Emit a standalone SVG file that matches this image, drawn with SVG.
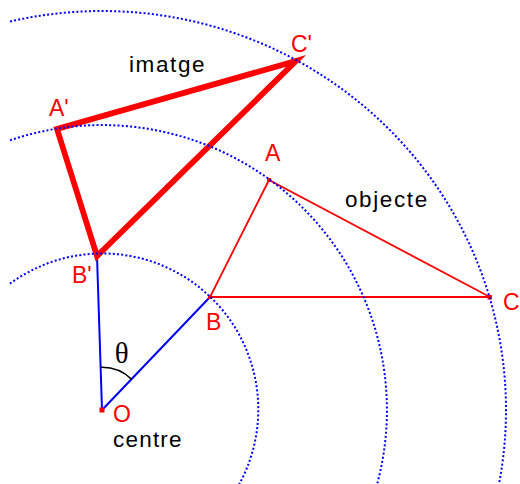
<svg xmlns="http://www.w3.org/2000/svg" width="520" height="484" viewBox="0 0 520 484">
<style>
.lbl{font-family:"Liberation Sans",Arial,sans-serif;font-size:23px;fill:#ff0000}
.txt{font-family:"Liberation Sans",Arial,sans-serif;font-size:22.5px;fill:#000;letter-spacing:1.6px}
.pt{fill:#ff0000}
.orbit{fill:none;stroke:#0000ff;stroke-width:2;stroke-dasharray:2 2.2}
.ray{stroke:#0000ff;stroke-width:2;fill:none}
.obj{stroke:#ff0000;stroke-width:1.8;fill:none;stroke-linejoin:miter}
.img{stroke:#ff0000;stroke-width:5.8;fill:none;stroke-linejoin:miter;stroke-miterlimit:10}
</style>
<rect width="520" height="484" fill="#ffffff"/>
<g id="connectors">
<line class="ray" x1="102" y1="410" x2="97" y2="256"/>
<line class="ray" x1="102" y1="410" x2="210" y2="297"/>
<path d="M100.7,367.3 A43,43 0 0 1 131.7,379.3" fill="none" stroke="#000" stroke-width="1.6"/>
<polygon class="obj" points="269,180 210,297 490,297"/>
<polygon class="img" points="57,129 97,256 296,61"/>
</g>
<g id="node-O"><rect class="pt" x="99.5" y="407.5" width="5" height="5"/><text class="lbl" x="113" y="421.5">O</text><text class="txt" x="113" y="446.5" style="letter-spacing:1.2px">centre</text></g>
<g id="node-theta"><text x="121.7" y="363" text-anchor="middle" font-family="'Liberation Serif','Times New Roman',serif" font-size="29">θ</text></g>
<g id="node-A"><rect class="pt" x="267" y="178" width="4" height="4"/><text class="lbl" x="265" y="161">A</text></g>
<g id="node-B"><rect class="pt" x="208" y="295" width="4" height="4"/><text class="lbl" x="206" y="330">B</text></g>
<g id="node-C"><rect class="pt" x="487.5" y="295" width="4.5" height="4.5"/><text class="lbl" x="503" y="310">C</text></g>
<g id="node-A2"><rect class="pt" x="55" y="127" width="4" height="4"/><text class="lbl" x="49" y="116">A'</text></g>
<g id="node-B2"><rect class="pt" x="95" y="254" width="4" height="4"/><text class="lbl" x="72" y="283">B'</text></g>
<g id="node-C2"><rect class="pt" x="294" y="59" width="4" height="4"/><text class="lbl" x="291" y="52">C'</text></g>
<g id="node-imatge"><text class="txt" x="129" y="72">imatge</text></g>
<g id="node-objecte"><text class="txt" x="345" y="207">objecte</text></g>
<g id="orbits">
<path class="orbit" d="M10,283.7 A156,156 0 0 1 235.9,490"/>
<path class="orbit" d="M10,140.3 A285,285 0 0 1 375.5,490"/>
<path class="orbit" d="M10,21.5 A404,399 0 0 1 497.8,490"/>
</g>
</svg>
